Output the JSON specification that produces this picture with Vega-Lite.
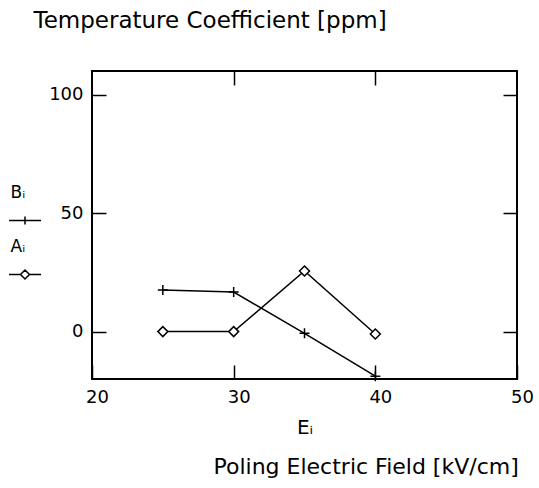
{
  "$schema": "https://vega.github.io/schema/vega-lite/v6.json",
  "autosize": "none",
  "width": 425,
  "height": 308,
  "padding": {"left": 92, "top": 71, "right": 22, "bottom": 109},
  "background": "white",
  "config": {
    "font": "DejaVu Sans",
    "view": {"stroke": "black", "strokeWidth": 2},
    "axis": {
      "grid": false,
      "domain": false,
      "tickColor": "black",
      "tickWidth": 1.5,
      "tickSize": -14,
      "labelColor": "black",
      "labelFontSize": 18,
      "labelFlush": false,
      "titleColor": "black",
      "titleFontWeight": "normal"
    },
    "legend": {
      "orient": "none",
      "title": null,
      "padding": 0,
      "symbolSize": 100,
      "labelFontSize": 17,
      "labelColor": "black",
      "labelBaseline": "alphabetic",
      "labelOffset": 0,
      "symbolStrokeColor": "black",
      "symbolStrokeWidth": 1.5,
      "symbolOpacity": 1
    }
  },
  "data": {
    "values": [
      {"E": 25, "value": 17.6, "series": "Bᵢ"},
      {"E": 30, "value": 16.7, "series": "Bᵢ"},
      {"E": 35, "value": -0.7, "series": "Bᵢ"},
      {"E": 40, "value": -18.8, "series": "Bᵢ"},
      {"E": 25, "value": 0, "series": "Aᵢ"},
      {"E": 30, "value": 0, "series": "Aᵢ"},
      {"E": 35, "value": 25.6, "series": "Aᵢ"},
      {"E": 40, "value": -1.0, "series": "Aᵢ"}
    ]
  },
  "layer": [
    {
      "mark": {"type": "line", "color": "black", "strokeWidth": 1.5},
      "encoding": {
        "x": {
          "field": "E", "type": "quantitative",
          "scale": {"domain": [20, 50], "nice": false, "zero": false},
          "axis": {
            "orient": "bottom",
            "values": [20, 30, 40, 50],
            "labelPadding": 23,
            "labelOffset": 5,
            "title": "Eᵢ",
            "titleFontSize": 20,
            "titleY": 54,
            "titleBaseline": "alphabetic"
          }
        },
        "y": {
          "field": "value", "type": "quantitative",
          "scale": {"domain": [-20, 110], "nice": false, "zero": false},
          "axis": {
            "orient": "left",
            "values": [0, 50, 100],
            "labelPadding": 23,
            "title": "Temperature Coefficient [ppm]",
            "titleFontSize": 23,
            "titleAngle": 0,
            "titleAlign": "left",
            "titleBaseline": "alphabetic",
            "titleX": -59,
            "titleY": -44
          }
        },
        "detail": {"field": "series"}
      }
    },
    {
      "transform": [{"filter": "datum.series === 'Bᵢ'"}],
      "mark": {"type": "point", "filled": false, "strokeWidth": 1.5, "opacity": 1, "size": 100},
      "encoding": {
        "x": {
          "field": "E", "type": "quantitative",
          "axis": {
            "orient": "top",
            "values": [30, 40],
            "labels": false,
            "title": "Poling Electric Field [kV/cm]",
            "titleFontSize": 22,
            "titleAngle": 0,
            "titleAlign": "left",
            "titleBaseline": "alphabetic",
            "titleX": 121,
            "titleY": 402
          }
        },
        "y": {
          "field": "value", "type": "quantitative",
          "axis": {"orient": "right", "values": [0, 50, 100], "labels": false, "title": null}
        },
        "shape": {
          "field": "series", "type": "nominal",
          "scale": {"domain": ["Bᵢ", "Aᵢ"], "range": ["M-1,0H1M0,-1V1", "diamond"]},
          "legend": null
        },
        "stroke": {
          "field": "series", "type": "nominal",
          "scale": {"range": ["black"]},
          "legend": {
            "legendX": -98.5,
            "legendY": 118,
            "symbolType": "M1.4,4.6H7.8M4.6,3.8V5.4"
          }
        }
      }
    },
    {
      "transform": [{"filter": "datum.series === 'Aᵢ'"}],
      "mark": {"type": "point", "filled": true, "stroke": "black", "strokeWidth": 1.5, "opacity": 1, "size": 100},
      "encoding": {
        "x": {"field": "E", "type": "quantitative", "axis": null},
        "y": {"field": "value", "type": "quantitative", "axis": null},
        "shape": {"field": "series", "type": "nominal", "legend": null},
        "fill": {
          "field": "series", "type": "nominal",
          "scale": {"range": ["white"]},
          "legend": {
            "legendX": -98.5,
            "legendY": 172,
            "symbolType": "M1.4,4.6H3.7M5.5,4.6H7.8M3.7,4.6L4.6,3.7L5.5,4.6L4.6,5.5Z"
          }
        }
      }
    }
  ],
  "resolve": {"axis": {"x": "independent", "y": "independent"}}
}
